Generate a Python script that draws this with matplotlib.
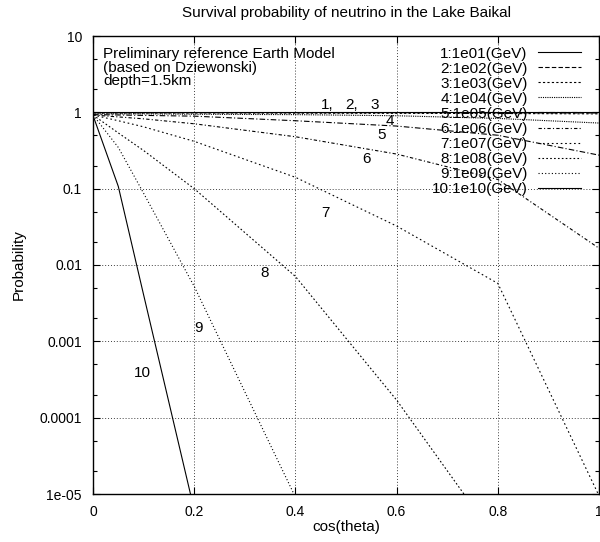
import matplotlib
matplotlib.use("Agg")
import matplotlib.pyplot as plt
from matplotlib.ticker import FixedLocator, LogLocator, NullFormatter

plt.rcParams['font.family'] = ['Liberation Sans', 'DejaVu Sans']

# ---- data ----
cos_theta = [0.0, 0.05, 0.1, 0.2, 0.4, 0.6, 0.8, 1.0]

p_1e01 = [1.0, 1.0, 1.0, 1.0, 1.0, 1.0, 1.0, 1.0]
p_1e02 = [0.99, 0.99, 0.99, 0.99, 0.99, 0.99, 0.985, 0.98]
p_1e03 = [0.98, 0.98, 0.98, 0.98, 0.975, 0.97, 0.965, 0.955]
p_1e04 = [0.955, 0.955, 0.955, 0.944, 0.933, 0.902, 0.832, 0.724]
p_1e05 = [0.933, 0.923, 0.912, 0.891, 0.776, 0.661, 0.501, 0.275]
p_1e06 = [0.923, 0.871, 0.822, 0.708, 0.479, 0.284, 0.132, 0.0166]
p_1e07 = [0.923, 0.776, 0.646, 0.417, 0.141, 0.0324, 0.00575, 9.5e-6]
p_1e08 = [0.923, 0.537, 0.316, 0.1, 0.00708, 1.7e-4, 2.4e-6]
p_1e09 = [0.923, 0.347, 0.0871, 5.25e-3, 9.1e-6]
p_1e10 = [0.912, 0.107, 4.07e-3, 6.2e-6]

series = [p_1e01, p_1e02, p_1e03, p_1e04, p_1e05,
          p_1e06, p_1e07, p_1e08, p_1e09, p_1e10]
legend_labels = ["1:1e01(GeV)", "2:1e02(GeV)", "3:1e03(GeV)", "4:1e04(GeV)",
                 "5:1e05(GeV)", "6:1e06(GeV)", "7:1e07(GeV)", "8:1e08(GeV)",
                 "9:1e09(GeV)", "10:1e10(GeV)"]

curve_tags = ["1,", "2,", "3", "4", "5", "6", "7", "8", "9", "10"]
tag_x = [0.462, 0.511, 0.557, 0.587, 0.571, 0.541, 0.459, 0.340, 0.208, 0.098]
tag_y = [1.25, 1.25, 1.25, 0.776, 0.504, 0.242, 0.0483, 0.0079, 0.00148, 3.87e-4]

x_ticks = [0, 0.2, 0.4, 0.6, 0.8, 1.0]
x_ticklabels = ["0", "0.2", "0.4", "0.6", "0.8", "1"]
y_ticks = [10, 1, 0.1, 0.01, 0.001, 0.0001, 1e-5]
y_ticklabels = ["10", "1", "0.1", "0.01", "0.001", "0.0001", "1e-05"]

# ---- styles ----
styles = ["-", (0, (4, 2)), (0, (2, 2)), (0, (1, 1)), (0, (5, 2, 1, 2)),
          (0, (3, 2, 1, 2)), (0, (1.5, 2.5)), (0, (1.5, 2)), (0, (1, 2)), "-"]

fig = plt.figure(figsize=(6.0, 5.42), dpi=100)
ax = fig.add_axes([93 / 600, 48 / 542, 506 / 600, 458 / 542])

for vals, lab, ls in zip(series, legend_labels, styles):
    ax.plot(cos_theta[:len(vals)], vals, color="black", lw=0.8,
            linestyle=ls, label=lab)

ax.set_yscale("log")
ax.set_xlim(0, 1)
ax.set_ylim(1e-5, 10)

ax.xaxis.set_major_locator(FixedLocator(x_ticks))
ax.set_xticklabels(x_ticklabels)
ax.yaxis.set_major_locator(FixedLocator(y_ticks))
ax.set_yticklabels(y_ticklabels)
ax.yaxis.set_minor_locator(LogLocator(base=10, subs=[2, 5]))
ax.yaxis.set_minor_formatter(NullFormatter())

ax.tick_params(axis="both", which="both", direction="in", top=True,
               right=True, labelsize=10, width=0.8)
ax.tick_params(axis="both", which="major", length=5)
ax.tick_params(axis="both", which="minor", length=3)
ax.tick_params(axis="x", pad=8)
ax.tick_params(axis="y", pad=8)

ax.grid(True, which="major", color="0.25", linestyle=(0, (1, 2)), lw=0.7)
for sp in ax.spines.values():
    sp.set_linewidth(1.0)

for t, tx, ty in zip(curve_tags, tag_x, tag_y):
    ax.text(tx, ty, t, ha="center", va="center", fontsize=11)

ax.text(0.0204, 0.975,
        "Preliminary reference Earth Model\n(based on Dziewonski)\ndepth=1.5km",
        transform=ax.transAxes, ha="left", va="top", fontsize=11,
        linespacing=0.92)

leg = ax.legend(loc="upper right", bbox_to_anchor=(0.9644, 0.977),
                frameon=False, markerfirst=False, fontsize=11,
                handlelength=2.8, handletextpad=0.7, labelspacing=0.07,
                borderpad=0, borderaxespad=0)

fig.text(346 / 600, 1 - 13 / 542,
         "Survival probability of neutrino in the Lake Baikal",
         ha="center", va="center", fontsize=11)
ax.set_xlabel("cos(theta)", fontsize=11, labelpad=1)
ax.set_ylabel("Probability", fontsize=11, labelpad=10)

fig.savefig("out.png", dpi=100)
